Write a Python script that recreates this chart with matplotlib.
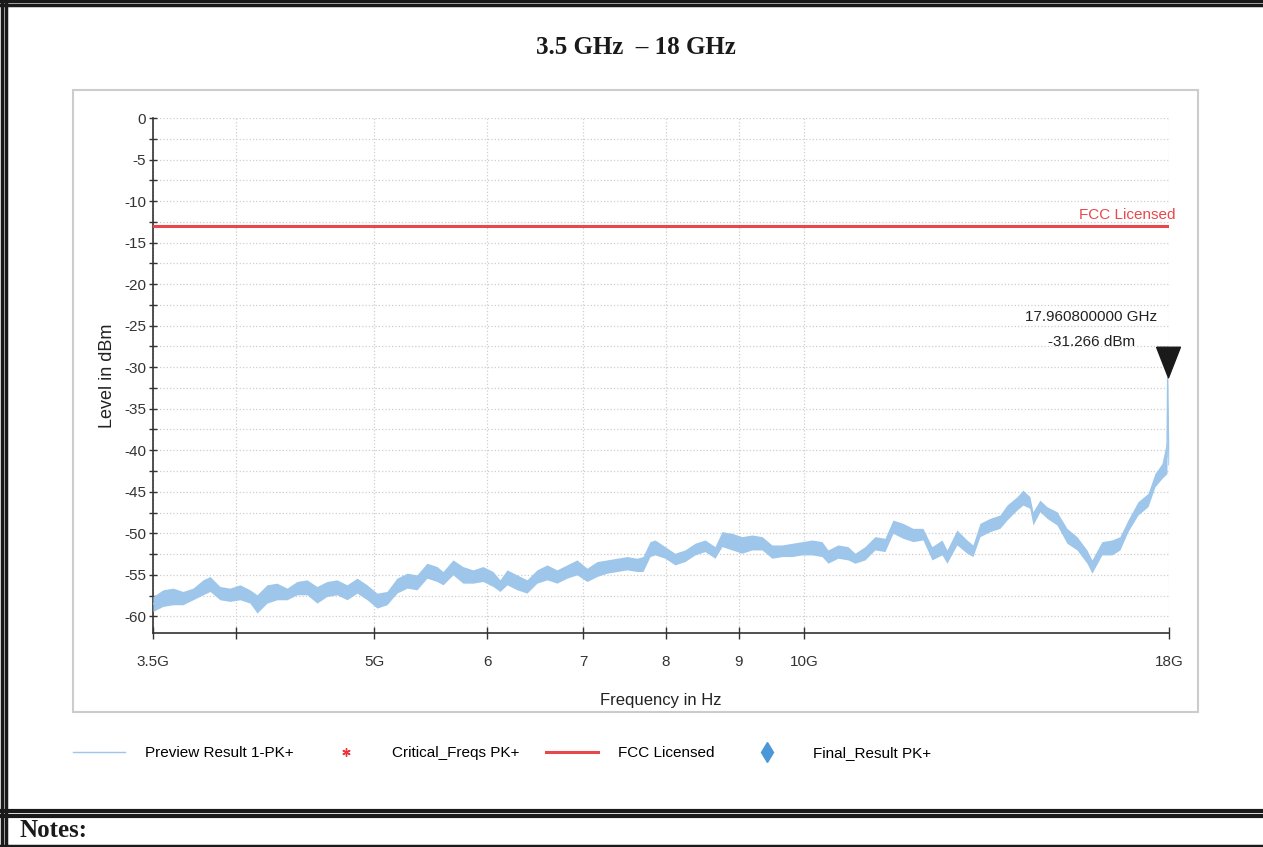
import numpy as np
import matplotlib
matplotlib.use("Agg")
import matplotlib.pyplot as plt
from matplotlib.lines import Line2D
from matplotlib.patches import Rectangle
from matplotlib.ticker import MultipleLocator, NullLocator
import matplotlib.transforms as mtransforms

# trace envelope (GHz, upper / lower dBm)
freq_ghz = [3.5, 3.557, 3.615, 3.673, 3.733, 3.794, 3.837, 3.899, 3.962, 4.027,
            4.092, 4.139, 4.206, 4.274, 4.344, 4.414, 4.486, 4.559, 4.633, 4.708,
            4.785, 4.863, 4.942, 5.022, 5.103, 5.186, 5.271, 5.356, 5.443, 5.532,
            5.586, 5.676, 5.768, 5.862, 5.957, 6.054, 6.123, 6.193, 6.293, 6.395,
            6.499, 6.605, 6.712, 6.821, 6.932, 7.045, 7.159, 7.276, 7.394, 7.514,
            7.636, 7.710, 7.798, 7.861, 7.989, 8.118, 8.250, 8.384, 8.521, 8.659,
            8.757, 8.900, 9.044, 9.191, 9.341, 9.492, 9.647, 9.803, 9.963, 10.124,
            10.289, 10.389, 10.557, 10.729, 10.851, 11.027, 11.206, 11.388, 11.536, 11.723,
            11.914, 12.107, 12.284, 12.484, 12.585, 12.789, 12.997, 13.123, 13.272, 13.488,
            13.707, 13.863, 14.088, 14.225, 14.386, 14.456, 14.620, 14.786, 15.026, 15.270,
            15.518, 15.770, 15.898, 16.156, 16.419, 16.632, 16.848, 17.122, 17.400, 17.598,
            17.797, 17.941, 17.9608, 18.0]
level_hi = [-57.6, -56.8, -56.6, -57.0, -56.6, -55.6, -55.2, -56.4, -56.6, -56.2,
            -56.8, -57.4, -56.2, -56.0, -56.6, -55.8, -55.6, -56.4, -55.8, -55.6,
            -56.2, -55.4, -56.2, -57.2, -57.0, -55.4, -54.8, -55.0, -53.6, -54.0,
            -54.6, -53.2, -54.0, -54.4, -54.0, -54.6, -55.6, -54.4, -55.0, -55.6,
            -54.4, -53.8, -54.4, -53.8, -53.2, -54.2, -53.4, -53.2, -53.0, -52.8,
            -53.0, -52.8, -51.0, -50.8, -51.6, -52.4, -52.0, -51.2, -50.8, -51.6,
            -49.8, -50.0, -50.4, -50.2, -50.4, -51.4, -51.4, -51.2, -51.0, -50.8,
            -51.0, -52.0, -51.4, -51.6, -52.4, -51.6, -50.4, -50.6, -48.4, -48.8,
            -49.4, -49.4, -51.6, -50.8, -52.0, -49.6, -50.8, -51.4, -48.8, -48.2,
            -47.8, -46.6, -45.6, -44.8, -45.6, -47.4, -46.0, -46.8, -47.4, -49.4,
            -50.4, -52.0, -53.2, -51.0, -50.8, -50.4, -48.4, -46.2, -45.2, -42.8,
            -41.6, -38.8, -31.266, -40.5]
level_lo = [-59.4, -58.8, -58.6, -58.6, -58.0, -57.4, -57.0, -58.0, -58.2, -58.0,
            -58.4, -59.6, -58.4, -58.0, -58.0, -57.4, -57.4, -58.4, -57.6, -57.4,
            -58.0, -57.2, -58.0, -59.0, -58.6, -57.2, -56.6, -56.8, -55.4, -55.8,
            -56.2, -55.0, -56.0, -56.0, -55.8, -56.4, -57.0, -56.2, -56.8, -57.2,
            -56.0, -55.6, -56.0, -55.4, -55.0, -55.8, -55.2, -54.8, -54.6, -54.4,
            -54.6, -54.6, -52.8, -52.6, -53.0, -53.8, -53.4, -52.6, -52.2, -53.0,
            -51.6, -52.0, -52.4, -52.0, -52.0, -53.0, -52.8, -52.8, -52.6, -52.6,
            -52.8, -53.6, -53.0, -53.2, -53.6, -53.2, -52.0, -52.2, -50.0, -50.6,
            -51.0, -50.8, -53.2, -52.6, -53.6, -51.4, -52.4, -52.8, -50.4, -49.8,
            -49.4, -48.4, -47.2, -46.6, -47.0, -49.0, -47.4, -48.2, -49.0, -51.2,
            -52.0, -53.6, -54.8, -52.6, -52.6, -52.0, -49.8, -47.8, -46.8, -44.4,
            -43.4, -42.8, -31.266, -43.0]

fcc_limit = -13
peak_ghz = 17.9608
peak_dbm = -31.266

tick_ghz = [3.5, 4, 5, 6, 7, 8, 9, 10, 18]
tick_text = ["3.5G", "", "5G", "6", "7", "8", "9", "10G", "18G"]

freq = np.array(freq_ghz) * 1e9
hi = np.array(level_hi)
lo = np.array(level_lo)

sans = ["Liberation Sans", "DejaVu Sans"]
serif = ["Liberation Serif", "DejaVu Serif"]
plt.rcParams["font.family"] = sans
plt.rcParams["axes.unicode_minus"] = False

W, H = 1263, 847
fig = plt.figure(figsize=(W / 100, H / 100), dpi=100)

ax = fig.add_axes([153 / W, 1 - 633 / H, (1169 - 153) / W, (633 - 118) / H])
ax.set_xscale("log")

trace_c = "#9dc6ea"
ax.fill_between(freq, lo, hi, color=trace_c, lw=0, zorder=3)
ax.plot(freq, (hi + lo) / 2, color=trace_c, lw=1.0, zorder=3, label="Preview Result 1-PK+")
ax.plot([], [], ls="none", marker=(6, 2, 0), ms=6, mec="#e8343a", color="#e8343a",
        label="Critical_Freqs PK+")
ax.axhline(fcc_limit, color="#e8474c", lw=2.2, zorder=4, label="FCC Licensed")
ax.plot([], [], ls="none", marker="d", ms=10, color="#4a98d8", label="Final_Result PK+")

# peak marker, tip sits on the peak
tri = [(-0.39, 0.5), (0.39, 0.5), (0.0, -0.5), (-0.39, 0.5)]
tri_tr = mtransforms.offset_copy(ax.transData, fig=fig, x=0, y=11, units="points")
ax.plot([peak_ghz * 1e9], [peak_dbm], marker=tri, ms=22, color="#1a1a1a",
        transform=tri_tr, zorder=6, clip_on=False)
ax.annotate(f"{peak_ghz:.9f} GHz", xy=(peak_ghz * 1e9, peak_dbm),
            xytext=(-55, 44), textcoords="offset points", ha="center", va="center",
            fontsize=11, color="#222222")
ax.annotate(f"{peak_dbm:.3f} dBm", xy=(peak_ghz * 1e9, peak_dbm),
            xytext=(-55, 26), textcoords="offset points", ha="center", va="center",
            fontsize=11, color="#222222")

ax.annotate("FCC Licensed", xy=(1, fcc_limit), xycoords=("axes fraction", "data"),
            xytext=(5, 3), textcoords="offset points", ha="right", va="bottom",
            fontsize=11, color="#e8474c")

ax.set_xlim(3.5e9, 18e9)
ax.set_ylim(-62, 0)
ax.set_xticks([t * 1e9 for t in tick_ghz])
ax.set_xticklabels(tick_text)
ax.xaxis.set_minor_locator(NullLocator())
ax.set_yticks(np.arange(-60, 1, 5))
ax.yaxis.set_minor_locator(MultipleLocator(2.5))

ax.grid(True, which="major", axis="x", color="#cfcfcf", ls=":", lw=0.9)
ax.grid(True, which="both", axis="y", color="#cfcfcf", ls=":", lw=0.9)
ax.tick_params(axis="x", which="both", direction="inout", length=8, width=1,
               color="#333333", labelcolor="#333333", labelsize=11, pad=12)
ax.tick_params(axis="y", which="both", direction="inout", length=6, width=1,
               color="#333333", labelcolor="#333333", labelsize=11, pad=2)
for s in ["top", "right"]:
    ax.spines[s].set_visible(False)
for s in ["left", "bottom"]:
    ax.spines[s].set_color("#333333")
    ax.spines[s].set_linewidth(1.2)

ax.set_xlabel("Frequency in Hz", fontsize=12, color="#222222", labelpad=17)
ax.set_ylabel("Level in dBm", fontsize=13, color="#222222", labelpad=6)

# chart panel and page frame
fig.add_artist(Rectangle((73 / W, 1 - 712 / H), (1198 - 73) / W, (712 - 90) / H,
                         transform=fig.transFigure, fill=False, ec="#cccccc", lw=1.5,
                         zorder=0))
for yy, lw in [(1.5, 2.5), (5.5, 2.5), (810.5, 3), (816, 3), (845.5, 2.5)]:
    fig.add_artist(Line2D([0, 1], [1 - yy / H] * 2, transform=fig.transFigure,
                          color="#1a1a1a", lw=lw))
for xx in [1.5, 6]:
    fig.add_artist(Line2D([xx / W] * 2, [0, 1], transform=fig.transFigure,
                          color="#1a1a1a", lw=2.5))

fig.text(636 / W, 1 - 48 / H, "3.5 GHz  \u2013 18 GHz", ha="center", va="center",
         fontsize=18, fontweight="bold", family=serif, color="#1a1a1a")
fig.text(20 / W, 1 - 830 / H, "Notes:", ha="left", va="center",
         fontsize=18, fontweight="bold", family=serif, color="#1a1a1a")

fig.legend(loc="center left", bbox_to_anchor=(73 / W, 1 - 753 / H), ncol=4,
           frameon=False, fontsize=11, handlelength=3.4, handletextpad=1.3,
           columnspacing=1.75, borderpad=0, borderaxespad=0)

fig.savefig("out.png", dpi=100, facecolor="white")
